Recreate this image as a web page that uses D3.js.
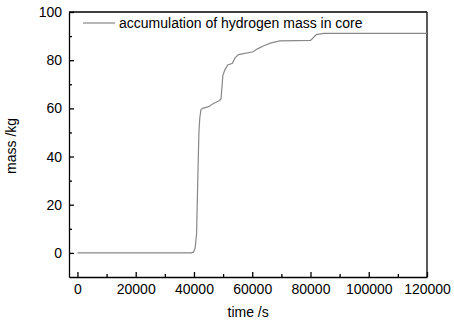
<!DOCTYPE html>
<html>
<head>
<meta charset="utf-8">
<script src="https://cdn.jsdelivr.net/npm/d3@7"></script>
<style>
  body { margin: 0; background: #fff; }
  text { font-family: "Liberation Sans", Arial, sans-serif; fill: #000; }
  .axis path, .axis line { stroke: #000; stroke-width: 1.3; }
  .axis text { font-size: 14px; }
</style>
</head>
<body>
<div id="chart"></div>
<script>
// time (s) and accumulated hydrogen mass in core (kg)
var times  = [0, 39000, 39800, 40400, 40900, 41300, 41700, 42000, 42400, 43000, 45000, 46700, 48800, 49300, 49900, 50600, 51600, 53200, 54100, 55300, 60300, 61800, 64000, 66500, 69500, 80000, 80700, 82000, 84500, 120000];
var masses = [0, 0, 0.3, 2, 8, 30, 50, 56, 59.5, 60, 60.7, 62, 63.3, 64, 73.5, 76, 78, 78.7, 81, 82.3, 83.5, 84.7, 86, 87.2, 88, 88.2, 89, 90.6, 91.1, 91.1];
var xTicks = [0, 20000, 40000, 60000, 80000, 100000, 120000];
var xMinor = [10000, 30000, 50000, 70000, 90000, 110000];
var yTicks = [0, 20, 40, 60, 80, 100];
var yMinor = [10, 30, 50, 70, 90];
var seriesName = "accumulation of hydrogen mass in core";

var margin = { top: 12, right: 27, bottom: 45, left: 69 };
var width = 454,
  height = 322;
var graphWidth = width - margin.left - margin.right,
  graphHeight = height - margin.top - margin.bottom;

var svg = d3.select("#chart").append("svg").attr("width", width).attr("height", height);
var graph = svg.append("g").attr("transform", "translate(" + margin.left + "," + margin.top + ")");

var x = d3.scaleLinear().domain([-2900, 120000]).range([0, graphWidth]);
var y = d3.scaleLinear().domain([-10, 100]).range([graphHeight, 0]);

// frame top / right
graph.append("line").attr("x1", 0).attr("x2", graphWidth).attr("y1", 0).attr("y2", 0)
  .attr("stroke", "#000").attr("stroke-width", 1.3);
graph.append("line").attr("x1", graphWidth).attr("x2", graphWidth).attr("y1", 0).attr("y2", graphHeight)
  .attr("stroke", "#000").attr("stroke-width", 1.3);

var gX = graph.append("g").attr("class", "axis").attr("transform", "translate(0," + graphHeight + ")");
gX.call(d3.axisBottom(x).tickValues(xTicks).tickSizeInner(-5).tickSizeOuter(0).tickPadding(7).tickFormat(d3.format("d")));
graph.append("g").attr("class", "axis").attr("transform", "translate(0," + graphHeight + ")")
  .call(d3.axisBottom(x).tickValues(xMinor).tickSizeInner(-3).tickSizeOuter(0).tickFormat(""))
  .select(".domain").remove();

var gY = graph.append("g").attr("class", "axis");
gY.call(d3.axisLeft(y).tickValues(yTicks).tickSizeInner(-5).tickSizeOuter(0).tickPadding(7).tickFormat(d3.format("d")));
graph.append("g").attr("class", "axis")
  .call(d3.axisLeft(y).tickValues(yMinor).tickSizeInner(-3).tickSizeOuter(0).tickFormat(""))
  .select(".domain").remove();

var line = d3.line()
  .x(function (d, i) { return x(times[i]); })
  .y(function (d) { return y(d); });
graph.append("path")
  .datum(masses)
  .attr("fill", "none")
  .attr("stroke", "#888")
  .attr("stroke-width", 1.2)
  .attr("d", line);

// legend
var legend = graph.append("g").attr("transform", "translate(14,11)");
legend.append("line").attr("x1", 0).attr("x2", 32).attr("y1", 0).attr("y2", 0)
  .attr("stroke", "#888").attr("stroke-width", 1.2);
legend.append("text").attr("x", 36).attr("y", 5).style("font-size", "14px").text(seriesName);

svg.append("text")
  .text("time /s")
  .attr("x", margin.left + x(58600))
  .attr("y", height - 5)
  .attr("text-anchor", "middle")
  .style("font-size", "14px");
svg.append("text")
  .text("mass /kg")
  .attr("transform", "translate(16," + (margin.top + y(44.4)) + ") rotate(-90)")
  .attr("text-anchor", "middle")
  .style("font-size", "14px");
</script>
</body>
</html>
